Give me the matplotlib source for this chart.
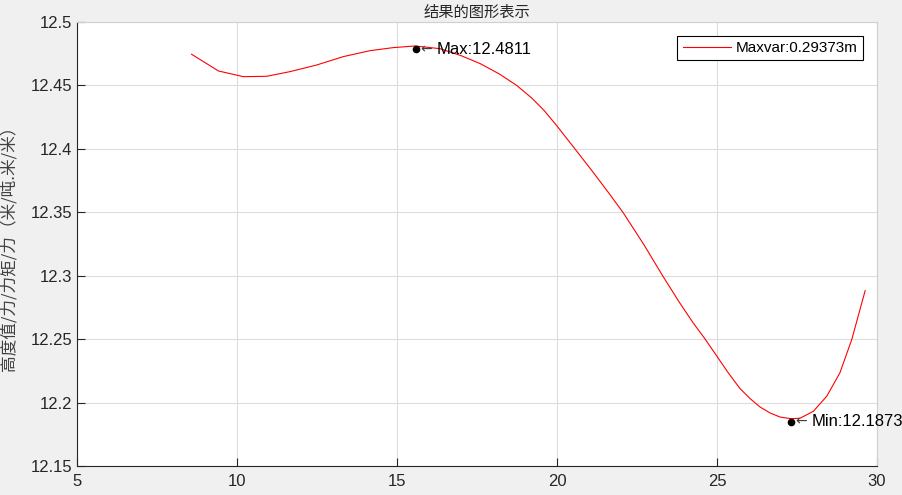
import matplotlib.pyplot as plt
import matplotlib.transforms as mtransforms

plt.rcParams["font.family"] = ["Liberation Sans", "DejaVu Sans"]

# curve
x_vals = [8.58, 9.42, 10.20, 10.93, 11.66, 12.49, 13.32, 14.16, 14.88, 15.56,
          16.34, 17.00, 17.60, 18.20, 18.74, 19.20, 19.60, 20.00, 20.56, 21.10,
          21.60, 22.07, 22.70, 23.30, 23.84, 24.25, 24.63, 24.99, 25.35, 25.72,
          26.04, 26.34, 26.66, 26.97, 27.31, 27.59, 28.01, 28.43, 28.84, 29.21,
          29.63]
y_vals = [12.4746, 12.4614, 12.4569, 12.4572, 12.4609, 12.4661, 12.4727, 12.4774,
          12.4798, 12.4811, 12.4790, 12.4735, 12.4672, 12.4590, 12.4500, 12.4403,
          12.4302, 12.4180, 12.4000, 12.3825, 12.3658, 12.3496, 12.3251, 12.3000,
          12.2784, 12.2630, 12.2500, 12.2368, 12.2235, 12.2110, 12.2030, 12.1966,
          12.1918, 12.1886, 12.1873, 12.1876, 12.1931, 12.2050, 12.2234, 12.2496,
          12.2882]

max_x, max_val = 15.59, 12.4811
min_x, min_val = 27.31, 12.1873
legend_label = "Maxvar:0.29373m"
title_text = "结果的图形表示"
ylabel_text = "高度值/力/力矩/力（米/吨.米/米）"
x_ticks = [5, 10, 15, 20, 25, 30]
y_ticks = [12.15, 12.2, 12.25, 12.3, 12.35, 12.4, 12.45, 12.5]
y_ticklabels = ["12.15", "12.2", "12.25", "12.3", "12.35", "12.4", "12.45", "12.5"]

fig = plt.figure(figsize=(9.02, 4.95), dpi=100, facecolor="#f0f0f0")
ax = fig.add_axes([77 / 902, 1 - 466 / 495, 800 / 902, 444 / 495])
ax.set_facecolor("white")

ax.plot(x_vals, y_vals, color="red", linewidth=0.8, label=legend_label)

# extreme markers sit a few pixels under the curve in the reference
dot_tr = mtransforms.offset_copy(ax.transData, fig=fig, x=0, y=-2.2, units="points")
ax.plot([max_x, min_x], [max_val, min_val], "o", color="black", markersize=4.5,
        transform=dot_tr)
for px, val, name in [(max_x, max_val, "Max"), (min_x, min_val, "Min")]:
    ax.annotate("\u2190", (px, val), xytext=(3, -2.2), textcoords="offset points",
                ha="left", va="center", fontsize=10, color="#404040",
                family=["DejaVu Sans"])
    ax.annotate(f"{name}:{val:.4f}", (px, val), xytext=(15, -2.2),
                textcoords="offset points", ha="left", va="center",
                fontsize=12, color="black", annotation_clip=False)

ax.set_xlim(5, 30)
ax.set_ylim(12.15, 12.5)
ax.set_xticks(x_ticks)
ax.set_yticks(y_ticks)
ax.set_yticklabels(y_ticklabels)
ax.tick_params(direction="in", length=6, width=0.8, colors="#262626",
               labelsize=12, top=False, right=False)
ax.tick_params(axis="x", pad=6)
ax.grid(True, color="#dcdcdc", linewidth=0.8)
ax.set_axisbelow(True)
for side in ["left", "bottom"]:
    ax.spines[side].set_color("#262626")
    ax.spines[side].set_linewidth(0.8)
for side in ["top", "right"]:
    ax.spines[side].set_color("#d0d0d0")
    ax.spines[side].set_linewidth(0.8)

ax.set_title(title_text, fontsize=11, color="#262626", pad=4,
             family=["Noto Sans CJK SC", "DejaVu Sans"])
ax.set_ylabel(ylabel_text, fontsize=12, color="#404040", labelpad=9,
              family=["Noto Sans CJK SC", "DejaVu Sans"])

leg = ax.legend(loc="upper right", fontsize=11, frameon=True, fancybox=False,
                edgecolor="black", framealpha=1, borderpad=0.35,
                handlelength=3.2, handletextpad=0.3, borderaxespad=0.9)
leg.get_frame().set_linewidth(0.8)

fig.savefig("out.png", dpi=100, facecolor=fig.get_facecolor())
